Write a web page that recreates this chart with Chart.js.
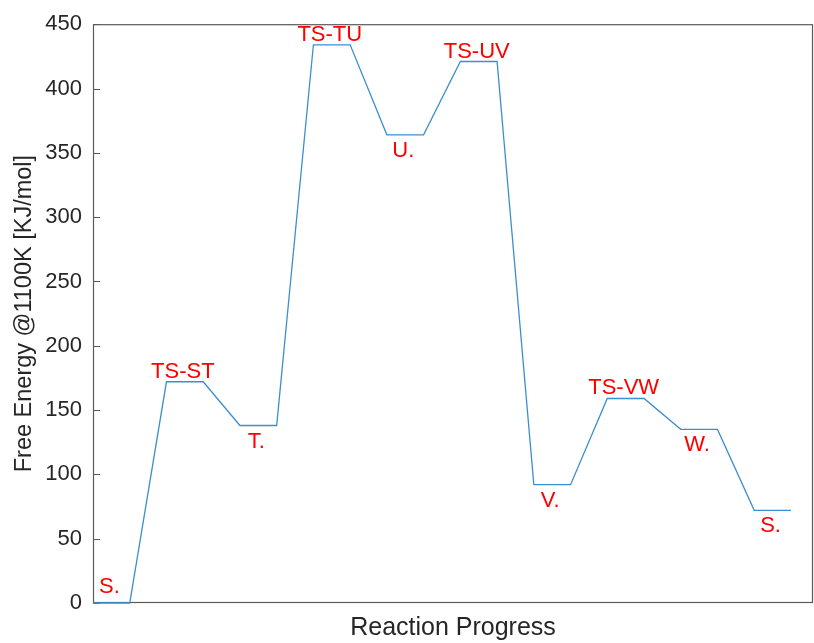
<!DOCTYPE html>
<html>
<head>
<meta charset="utf-8">
<script src="https://cdn.jsdelivr.net/npm/chart.js@4/dist/chart.umd.min.js"></script>
<style>
  html, body { margin: 0; padding: 0; background: #ffffff; }
  #wrap { width: 814px; height: 643px; position: relative; }
</style>
</head>
<body>
<div id="wrap"><canvas id="c" width="814" height="643"></canvas></div>
<script>
// ---- data ----
const species = ['S.', 'TS-ST', 'T.', 'TS-TU', 'U.', 'TS-UV', 'V.', 'TS-VW', 'W.', 'S.'];
const energies = [0, 172, 138, 434, 364, 421, 92, 159, 135, 72];
const isTransitionState = [false, true, false, true, false, true, false, true, false, false];
const yTicks = [0, 50, 100, 150, 200, 250, 300, 350, 400, 450];
const xTitle = 'Reaction Progress';
const yTitle = 'Free Energy @1100K [KJ/mol]';

// each species is a plateau of width 1, joined to the next by a ramp of width 1
const points = [];
energies.forEach((e, i) => {
  points.push({ x: 2 * i, y: e });
  points.push({ x: 2 * i + 1, y: e });
});

const AXIS = '#262626';
const FONT = '"Liberation Sans", Arial, Helvetica, sans-serif';

const boxAndTicks = {
  id: 'boxAndTicks',
  beforeDatasetsDraw(chart) {
    const { ctx, chartArea: a, scales } = chart;
    const y = scales.y;
    ctx.save();
    ctx.strokeStyle = '#5a5a5a';
    ctx.lineWidth = 1.2;
    ctx.strokeRect(a.left + 0.5, a.top + 0.5, a.right - a.left - 1, a.bottom - a.top - 1);
    ctx.beginPath();
    yTicks.forEach(v => {
      const py = Math.round(y.getPixelForValue(v)) + 0.5;
      ctx.moveTo(a.left, py);
      ctx.lineTo(a.left + 7, py);
    });
    ctx.stroke();
    ctx.restore();
  }
};

const levelLabels = {
  id: 'levelLabels',
  afterDatasetsDraw(chart) {
    const { ctx, scales, chartArea: a } = chart;
    ctx.save();
    ctx.fillStyle = '#ff0000';
    ctx.font = '22px ' + FONT;
    ctx.textAlign = 'center';
    ctx.textBaseline = 'alphabetic';
    species.forEach((name, i) => {
      const px = scales.x.getPixelForValue(2 * i + 0.5) - 2;
      const py = scales.y.getPixelForValue(energies[i]);
      const above = isTransitionState[i] || py > a.bottom - 20;
      const baseY = above ? Math.min(py - 4, a.bottom - 10) : py + 22;
      ctx.fillText(name, px, baseY);
    });
    ctx.restore();
  }
};

new Chart(document.getElementById('c'), {
  type: 'scatter',
  data: {
    datasets: [{
      data: points,
      showLine: true,
      borderColor: '#3a8fd1',
      borderWidth: 1.3,
      pointRadius: 0,
      pointHoverRadius: 0,
      tension: 0,
      fill: false,
      clip: 3
    }]
  },
  options: {
    responsive: false,
    animation: false,
    events: [],
    layout: { padding: { top: 22, right: 1, left: 0, bottom: 0 } },
    plugins: { legend: { display: false }, tooltip: { enabled: false } },
    scales: {
      x: {
        type: 'linear',
        min: 0,
        max: 19.6,
        grid: { display: false, drawTicks: false },
        border: { display: false },
        ticks: { display: false },
        title: {
          display: true,
          text: xTitle,
          color: AXIS,
          font: { family: FONT, size: 25, lineHeight: 1.2 },
          padding: 0
        },
        afterFit(s) { s.height = 40; }
      },
      y: {
        type: 'linear',
        min: 0,
        max: 450,
        grid: { display: false, drawTicks: false },
        border: { display: false },
        afterBuildTicks(s) { s.ticks = yTicks.map(v => ({ value: v })); },
        ticks: {
          color: AXIS,
          font: { family: FONT, size: 22 },
          padding: 11
        },
        title: {
          display: true,
          text: yTitle,
          color: AXIS,
          font: { family: FONT, size: 23.5 },
          padding: 10
        },
        afterFit(s) { s.width = 93; }
      }
    }
  },
  plugins: [boxAndTicks, levelLabels]
});
</script>
</body>
</html>
